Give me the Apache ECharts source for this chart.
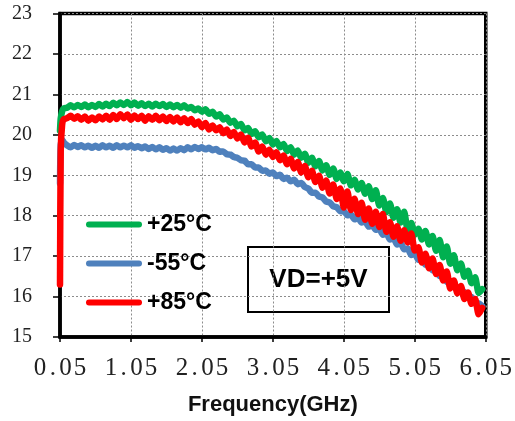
<!DOCTYPE html>
<html>
<head>
<meta charset="utf-8">
<script src="https://cdn.jsdelivr.net/npm/echarts@6/dist/echarts.min.js"></script>
<style>html,body{margin:0;padding:0;background:#fff;}#c{width:515px;height:421px;}</style>
</head>
<body>
<div id="c"></div>
<script>
// Frequency (GHz)
var freq = [0.05,0.06,0.08,0.10,
0.15,0.20,0.25,0.30,0.35,0.40,0.45,0.50,
0.55,0.60,0.65,0.70,0.75,0.80,0.85,0.90,0.95,1.00,
1.05,1.10,1.15,1.20,1.25,1.30,1.35,1.40,1.45,1.50,
1.55,1.60,1.65,1.70,1.75,1.80,1.85,1.90,1.95,2.00,
2.05,2.10,2.15,2.20,2.25,2.30,2.35,2.40,2.45,2.50,
2.55,2.60,2.65,2.70,2.75,2.80,2.85,2.90,2.95,3.00,
3.05,3.10,3.15,3.20,3.25,3.30,3.35,3.40,3.45,3.50,
3.55,3.60,3.65,3.70,3.75,3.80,3.85,3.90,3.95,4.00,
4.05,4.10,4.15,4.20,4.25,4.30,4.35,4.40,4.45,4.50,
4.55,4.60,4.65,4.70,4.75,4.80,4.85,4.90,4.95,5.00,
5.05,5.10,5.15,5.20,5.25,5.30,5.35,5.40,5.45,5.50,
5.55,5.60,5.65,5.70,5.75,5.80,5.85,5.90,5.95,6.00];

var seriesNames = ['+25°C', '-55°C', '+85°C'];

var gain25 = [20.10,20.40,20.58,20.65,
20.67,20.73,20.68,20.74,20.69,20.75,20.68,20.74,
20.69,20.76,20.70,20.77,20.71,20.79,20.73,20.80,20.74,20.81,
20.73,20.80,20.72,20.78,20.71,20.77,20.70,20.77,20.71,20.76,
20.69,20.75,20.68,20.74,20.67,20.73,20.65,20.69,20.61,20.65,
20.57,20.63,20.52,20.57,20.45,20.51,20.38,20.43,20.30,20.35,
20.21,20.27,20.11,20.17,20.02,20.09,19.94,20.01,19.84,19.92,
19.76,19.85,19.69,19.77,19.60,19.69,19.51,19.61,19.43,19.53,
19.31,19.43,19.22,19.35,19.12,19.25,19.01,19.17,18.91,19.07,
18.85,19.03,18.75,18.89,18.65,18.81,18.54,18.73,18.41,18.63,
18.25,18.44,18.09,18.30,17.95,18.16,17.83,18.10,17.65,17.82,
17.53,17.68,17.41,17.62,17.29,17.50,17.13,17.40,16.97,17.24,
16.81,17.02,16.65,16.82,16.49,16.64,16.33,16.48,16.09,16.18];

var gainM55 = [18.80,19.75,19.88,19.82,
19.74,19.69,19.75,19.70,19.74,19.69,19.73,19.68,
19.73,19.68,19.74,19.69,19.73,19.68,19.74,19.69,19.73,19.69,
19.74,19.68,19.72,19.67,19.71,19.65,19.70,19.64,19.69,19.63,
19.67,19.61,19.66,19.61,19.67,19.62,19.69,19.64,19.70,19.65,
19.69,19.64,19.68,19.62,19.65,19.58,19.59,19.52,19.51,19.45,
19.43,19.37,19.36,19.27,19.27,19.19,19.19,19.11,19.12,19.04,
19.07,18.98,19.01,18.91,18.94,18.85,18.89,18.78,18.81,18.71,
18.67,18.57,18.57,18.47,18.45,18.35,18.33,18.23,18.21,18.11,
18.11,18.01,18.03,17.91,17.95,17.83,17.87,17.73,17.77,17.65,
17.67,17.53,17.57,17.41,17.45,17.29,17.33,17.17,17.19,17.03,
17.07,16.91,16.93,16.79,16.81,16.65,16.67,16.51,16.51,16.37,
16.37,16.23,16.23,16.11,16.11,15.97,15.99,15.85,15.83,15.76];

var gain85 = [16.30,19.60,20.25,20.38,
20.41,20.47,20.40,20.46,20.37,20.45,20.35,20.43,
20.36,20.45,20.38,20.47,20.37,20.49,20.39,20.51,20.41,20.50,
20.37,20.48,20.39,20.47,20.35,20.46,20.37,20.47,20.36,20.45,
20.34,20.44,20.33,20.43,20.31,20.41,20.29,20.39,20.25,20.33,
20.19,20.29,20.13,20.23,20.11,20.19,20.04,20.13,19.97,20.07,
19.91,20.01,19.81,19.93,19.71,19.81,19.59,19.71,19.51,19.63,
19.45,19.57,19.37,19.49,19.27,19.41,19.17,19.33,19.07,19.23,
18.95,19.11,18.83,18.99,18.69,18.87,18.55,18.77,18.41,18.67,
18.20,18.60,18.14,18.42,18.04,18.32,17.90,18.18,17.80,18.10,
17.72,18.04,17.60,17.84,17.48,17.74,17.38,17.64,17.34,17.56,
17.14,17.22,16.84,17.06,16.70,16.94,16.56,16.78,16.40,16.62,
16.20,16.40,16.08,16.26,15.94,16.10,15.82,15.94,15.56,15.72];

var seriesColors = ['#00B050', '#4F81BD', '#FF0000'];
var xTicks = [0.05, 1.05, 2.05, 3.05, 4.05, 5.05, 6.05];
var yTicks = [15, 16, 17, 18, 19, 20, 21, 22, 23];

function pairs(vals) {
  return freq.map(function (f, i) { return [f, vals[i]]; });
}

var chart = echarts.init(document.getElementById('c'), null, {renderer: 'canvas'});
var allVals = [gain25, gainM55, gain85];
var pill = 'path://M3,0L53,0A3,3,0,0,1,53,6L3,6A3,3,0,0,1,3,0Z';

chart.setOption({
  animation: false,
  backgroundColor: '#fff',
  grid: {
    left: 60, right: 28, top: 13.5, bottom: 84,
    show: true, borderColor: '#000', borderWidth: 3.5, backgroundColor: 'transparent'
  },
  legend: {
    orient: 'vertical',
    left: 86, top: 213,
    padding: 0,
    itemWidth: 56, itemHeight: 6, itemGap: 16,
    icon: pill,
    data: seriesNames,
    textStyle: {
      fontFamily: 'Liberation Sans', fontWeight: 'bold', fontSize: 23, color: '#000', lineHeight: 22
    },
    selectedMode: false
  },
  xAxis: {
    type: 'value',
    min: xTicks[0], max: xTicks[xTicks.length - 1], interval: 1,
    name: 'Frequency(GHz)',
    nameLocation: 'middle',
    nameGap: 57,
    nameTextStyle: { fontFamily: 'Liberation Sans', fontWeight: 'bold', fontSize: 22, color: '#111' },
    axisLine: { show: true, lineStyle: { color: '#000', width: 3.5 } },
    axisTick: { show: true, inside: false, length: 5, lineStyle: { color: '#000', width: 1.5 } },
    splitLine: { show: true, lineStyle: { color: '#8c8c8c', type: [2, 2], width: 1 } },
    axisLabel: {
      margin: 19,
      showMinLabel: true, showMaxLabel: true,
      formatter: function (v) {
        var s = v.toFixed(2);
        return s.split('').map(function (ch) { return ch === '.' ? '{p|.}' : '{c|' + ch + '}'; }).join('');
      },
      rich: {
        c: { fontFamily: 'Liberation Serif', fontSize: 25, width: 14.5, align: 'center', color: '#222' },
        p: { fontFamily: 'Liberation Serif', fontSize: 25, width: 11, align: 'center', color: '#222' }
      }
    }
  },
  yAxis: {
    type: 'value',
    min: yTicks[0], max: yTicks[yTicks.length - 1], interval: 1,
    axisLine: { show: true, lineStyle: { color: '#000', width: 3.5 } },
    axisTick: { show: true, inside: false, length: 7, lineStyle: { color: '#000', width: 1.5 } },
    splitLine: { show: true, lineStyle: { color: '#8c8c8c', type: [2, 2], width: 1 } },
    axisLabel: {
      margin: 28,
      fontFamily: 'Liberation Serif', fontSize: 20, color: '#222'
    }
  },
  series: seriesNames.map(function (name, i) {
    return {
      name: name,
      type: 'line',
      data: pairs(allVals[i]),
      symbol: 'none',
      smooth: 0.2,
      color: seriesColors[i],
      lineStyle: { color: seriesColors[i], width: 6.5, cap: 'round', join: 'round' },
      z: 3 + i
    };
  }),
  graphic: [{
    type: 'group',
    left: 247, top: 246,
    z: 100,
    children: [{
      type: 'rect',
      shape: { x: 0, y: 0, width: 141, height: 65 },
      style: { fill: '#fff', stroke: '#000', lineWidth: 2 }
    }, {
      type: 'text',
      x: 70.5, y: 33,
      style: {
        text: 'VD=+5V', fill: '#000',
        font: 'bold 26px "Liberation Sans"',
        align: 'center', verticalAlign: 'middle'
      }
    }]
  }]
});
</script>
</body>
</html>
